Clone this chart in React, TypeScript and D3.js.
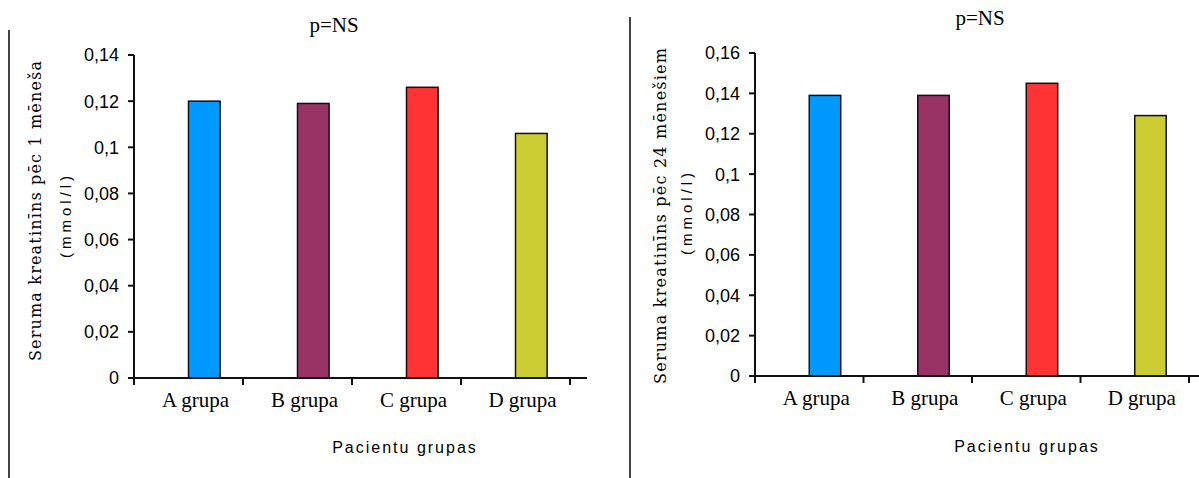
import React from 'react';
import * as d3 from 'd3';

// Patient groups and serum creatinine (mmol/l) per group
const groups = ['A grupa', 'B grupa', 'C grupa', 'D grupa'];
const creatinine1Month = [0.12, 0.119, 0.126, 0.106];
const creatinine24Months = [0.139, 0.139, 0.145, 0.129];
const ticks1Month = [0, 0.02, 0.04, 0.06, 0.08, 0.1, 0.12, 0.14];
const ticks24Months = [0, 0.02, 0.04, 0.06, 0.08, 0.1, 0.12, 0.14, 0.16];
const groupColors = ['#0099FF', '#993366', '#FF3333', '#CCCC33'];

const titleText = 'p=NS';
const xTitle = 'Pacientu grupas';
const yTitle1Month = 'Seruma kreatinīns pēc 1 mēneša';
const yTitle24Months = 'Seruma kreatinīns pēc 24 mēnešiem';
const unitText = '(mmol/l)';

const fmt = (v: number) => String(+v.toFixed(2)).replace('.', ',');

type PanelProps = {
  values: number[];
  ticks: number[];
  yTitle: string;
  yTitleLen: number;
  left: number;
  right: number;
  top: number;
  bottom: number;
  axisEnd: number;
  titleX: number;
  titleY: number;
  yTitleX: number;
  yTitleY: number;
  unitX: number;
  unitY: number;
  xTitleX: number;
  xTitleY: number;
  sepX: number;
  sepTop: number;
};

const serif = '"Liberation Serif", "Times New Roman", serif';
const slab = '"DejaVu Serif", serif';
const sans = '"Liberation Sans", Arial, sans-serif';

function Panel(p: PanelProps) {
  const y = d3
    .scaleLinear()
    .domain([0, d3.max(p.ticks) as number])
    .range([p.bottom, p.top]);
  const x = d3.scaleBand<string>().domain(groups).range([p.left, p.right]);
  const bw = x.bandwidth();
  const barW = bw * 0.29;
  const edges = groups.map((g) => x(g) as number).concat([p.right]);

  return (
    <g>
      {/* separator line at the panel's left edge */}
      <line x1={p.sepX} x2={p.sepX} y1={p.sepTop} y2={478} stroke="#444" strokeWidth={2} />

      <text x={p.titleX} y={p.titleY} fontFamily={serif} fontSize={21} textAnchor="middle" fill="#000">
        {titleText}
      </text>

      {/* bars */}
      {p.values.map((v, i) => (
        <rect
          key={groups[i]}
          x={(x(groups[i]) as number) + bw / 2}
          y={y(v)}
          width={barW}
          height={p.bottom - y(v)}
          fill={groupColors[i]}
          stroke="#111"
          strokeWidth={1.5}
        />
      ))}

      {/* y axis */}
      <line x1={p.left} x2={p.left} y1={p.top} y2={p.bottom + 7} stroke="#111" strokeWidth={2} />
      {p.ticks.map((t) => (
        <g key={t}>
          <line x1={p.left - 6} x2={p.left} y1={y(t)} y2={y(t)} stroke="#111" strokeWidth={2} />
          <text
            x={p.left - 15}
            y={y(t)}
            dy="0.36em"
            textAnchor="end"
            fontFamily={sans}
            fontSize={18}
            fill="#000"
          >
            {fmt(t)}
          </text>
        </g>
      ))}

      {/* x axis */}
      <line x1={p.left} x2={p.axisEnd} y1={p.bottom} y2={p.bottom} stroke="#111" strokeWidth={2} />
      {edges.slice(1).map((e, i) => (
        <line key={i} x1={e} x2={e} y1={p.bottom} y2={p.bottom + 7} stroke="#111" strokeWidth={2} />
      ))}
      {groups.map((g) => (
        <text
          key={g}
          x={(x(g) as number) + bw / 2 + 7}
          y={p.bottom + 29}
          textAnchor="middle"
          fontFamily={serif}
          fontSize={21}
          fill="#000"
        >
          {g}
        </text>
      ))}

      <text
        x={p.xTitleX}
        y={p.xTitleY}
        textAnchor="middle"
        fontFamily={sans}
        fontSize={16}
        letterSpacing={2}
        fill="#000"
      >
        {xTitle}
      </text>

      {/* y axis titles */}
      <text
        transform={`translate(${p.yTitleX},${p.yTitleY}) rotate(-90)`}
        textAnchor="middle"
        fontFamily={slab}
        fontSize={16}
        textLength={p.yTitleLen}
        lengthAdjust="spacing"
        fill="#000"
      >
        {p.yTitle}
      </text>
      <text
        transform={`translate(${p.unitX},${p.unitY}) rotate(-90)`}
        textAnchor="middle"
        fontFamily={sans}
        fontSize={15}
        letterSpacing={4}
        fill="#000"
      >
        {unitText}
      </text>
    </g>
  );
}

export default function App() {
  return (
    <svg
      width={1199}
      height={478}
      style={{ position: 'absolute', left: 0, top: 0, background: '#fff' }}
    >
      <rect width={1199} height={478} fill="#fff" />
      <Panel
        values={creatinine1Month}
        ticks={ticks1Month}
        yTitle={yTitle1Month}
        yTitleLen={300}
        left={134}
        right={570}
        top={55}
        bottom={378}
        axisEnd={587}
        titleX={334}
        titleY={32}
        yTitleX={41}
        yTitleY={211}
        unitX={71}
        unitY={215}
        xTitleX={405}
        xTitleY={453}
        sepX={9}
        sepTop={30}
      />
      <Panel
        values={creatinine24Months}
        ticks={ticks24Months}
        yTitle={yTitle24Months}
        yTitleLen={336}
        left={755}
        right={1189}
        top={53}
        bottom={376}
        axisEnd={1207}
        titleX={980}
        titleY={25}
        yTitleX={666}
        yTitleY={216}
        unitX={692}
        unitY={212}
        xTitleX={1027}
        xTitleY={452}
        sepX={630}
        sepTop={17}
      />
    </svg>
  );
}
